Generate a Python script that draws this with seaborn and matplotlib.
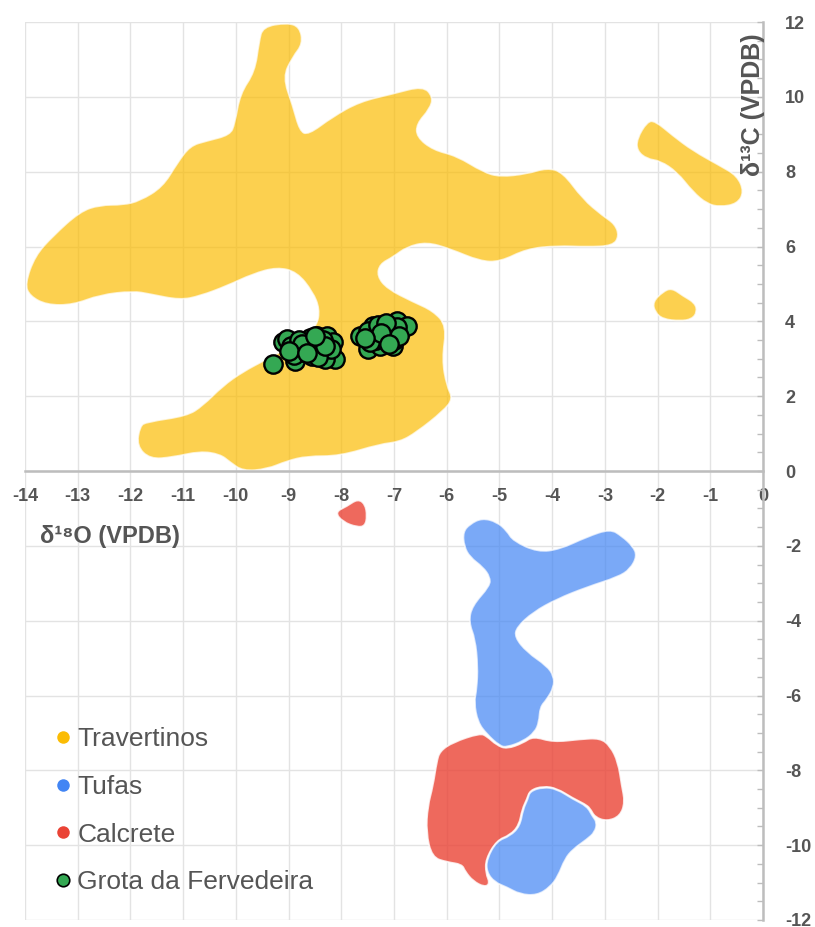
import numpy as np
import matplotlib
matplotlib.use("Agg")
import matplotlib.pyplot as plt
from matplotlib.path import Path
from matplotlib.patches import PathPatch
from matplotlib.lines import Line2D
from matplotlib.ticker import MultipleLocator
import seaborn as sns

# ---- outlines of the isotope fields (x = d18O, y = d13C, VPDB) ----
trav_main_x = [-14.0, -13.81, -13.47, -12.96, -12.58, -12.14, -11.82, -11.39, -11.12, -10.87,
               -10.55, -10.11, -10.02, -9.92, -9.64, -9.56, -9.49, -9.03, -8.79, -8.73,
               -8.92, -9.11, -8.92, -8.79, -8.63, -8.16, -7.65, -7.02, -6.45, -6.26,
               -6.32, -6.57, -6.57, -6.26, -5.81, -5.31, -4.99, -4.48, -4.10, -3.80,
               -3.42, -3.04, -2.81, -2.73, -2.85, -3.34, -3.91, -4.48, -4.99, -5.37,
               -5.94, -6.38, -6.76, -7.02, -7.27, -7.32, -7.13, -6.64, -6.26, -6.00,
               -6.09, -6.00, -5.88, -6.07, -6.57, -6.89, -7.27, -8.03, -8.65, -9.03,
               -9.41, -9.87, -10.11, -10.30, -10.68, -11.20, -11.63, -11.88, -11.82, -11.69,
               -10.93, -10.63, -10.25, -9.87, -9.41, -8.79, -8.46, -8.41, -8.54, -8.84,
               -9.22, -9.68, -10.17, -10.68, -11.06, -11.63, -11.95, -12.58, -13.09, -13.59,
               -13.91]
trav_main_y = [5.00, 5.75, 6.28, 6.93, 7.11, 7.11, 7.22, 7.59, 8.21, 8.69,
               8.82, 8.98, 9.28, 10.08, 10.67, 11.47, 11.87, 11.98, 11.87, 11.42,
               11.07, 10.53, 9.76, 9.09, 8.98, 9.47, 9.87, 10.08, 10.29, 10.00,
               9.68, 9.28, 8.93, 8.58, 8.42, 7.99, 7.86, 7.94, 8.10, 7.99,
               7.27, 6.82, 6.60, 6.28, 6.02, 5.99, 6.02, 5.94, 5.59, 5.61,
               5.94, 6.12, 5.99, 5.72, 5.53, 5.21, 4.87, 4.52, 4.28, 3.88,
               2.99, 2.27, 1.93, 1.60, 1.04, 0.78, 0.72, 0.40, 0.40, 0.27,
               0.05, 0.00, 0.24, 0.45, 0.53, 0.37, 0.32, 0.67, 1.20, 1.31,
               1.47, 1.74, 2.27, 2.65, 2.99, 3.45, 3.88, 4.33, 4.79, 5.32,
               5.45, 5.27, 4.95, 4.68, 4.57, 4.73, 4.81, 4.71, 4.44, 4.44,
               4.68]

trav_ne_x = [-2.39, -2.20, -2.05, -1.71, -1.33, -0.82, -0.49, -0.36, -0.49, -0.82,
             -1.06, -1.33, -1.63, -1.95, -2.20, -2.39]
trav_ne_y = [8.88, 9.33, 9.36, 8.96, 8.56, 8.16, 7.89, 7.46, 7.14, 7.06,
             7.14, 7.46, 7.99, 8.29, 8.34, 8.56]

trav_e_x = [-2.09, -1.90, -1.73, -1.52, -1.29, -1.25, -1.35, -1.57, -1.90, -2.05]
trav_e_y = [4.52, 4.79, 4.89, 4.68, 4.49, 4.25, 4.06, 4.01, 4.06, 4.25]

tufa_n_x = [-5.69, -5.56, -5.33, -5.05, -4.86, -4.74, -4.27, -3.85, -3.34, -2.90,
            -2.68, -2.47, -2.39, -2.52, -2.75, -3.34, -3.91, -4.36, -4.67, -4.71,
            -4.48, -4.10, -3.97, -3.97, -4.10, -4.23, -4.25, -4.33, -4.55, -4.86,
            -4.99, -5.24, -5.41, -5.48, -5.43, -5.41, -5.46, -5.58, -5.52, -5.18,
            -5.18, -5.31, -5.56, -5.67]
tufa_n_y = [-1.63, -1.42, -1.26, -1.36, -1.60, -1.87, -2.17, -2.09, -1.76, -1.55,
            -1.74, -2.01, -2.27, -2.62, -2.83, -3.10, -3.42, -3.77, -4.17, -4.44,
            -4.84, -5.21, -5.48, -5.78, -6.10, -6.31, -6.71, -6.98, -7.22, -7.38,
            -7.35, -7.03, -6.71, -6.18, -5.83, -5.21, -4.49, -4.04, -3.61, -3.07,
            -2.83, -2.57, -2.30, -2.01]

tufa_s_x = [-4.42, -4.17, -3.91, -3.61, -3.34, -3.24, -3.15, -3.19, -3.34, -3.61,
            -3.76, -3.89, -4.04, -4.29, -4.61, -4.86, -5.09, -5.24, -5.24, -5.05,
            -4.80, -4.61, -4.55, -4.46]
tufa_s_y = [-8.56, -8.45, -8.50, -8.77, -8.96, -9.22, -9.39, -9.65, -9.84, -10.11,
            -10.37, -10.83, -11.12, -11.34, -11.31, -11.12, -10.99, -10.72, -10.37, -9.89,
            -9.76, -9.49, -9.04, -8.77]

calc_x = [-6.13, -5.88, -5.37, -5.24, -5.05, -4.86, -4.55, -4.36, -3.98, -3.47,
          -3.09, -2.90, -2.75, -2.68, -2.62, -2.71, -2.96, -3.19, -3.28, -3.38,
          -3.61, -3.91, -4.17, -4.42, -4.48, -4.57, -4.63, -4.80, -5.05, -5.26,
          -5.26, -5.18, -5.28, -5.50, -5.65, -5.71, -6.00, -6.28, -6.39, -6.36,
          -6.26, -6.19]
calc_y = [-7.49, -7.25, -7.01, -7.09, -7.33, -7.43, -7.27, -7.09, -7.25, -7.17,
          -7.14, -7.35, -7.78, -8.42, -8.85, -9.22, -9.36, -9.25, -9.01, -8.90,
          -8.74, -8.48, -8.42, -8.53, -8.77, -9.04, -9.47, -9.73, -9.87, -10.37,
          -10.75, -11.02, -11.12, -10.96, -10.70, -10.51, -10.45, -10.32, -9.65, -8.96,
          -8.42, -7.78]

calc_small_x = [-8.12, -7.89, -7.69, -7.55, -7.51, -7.55, -7.70, -7.97]
calc_small_y = [-1.10, -0.94, -0.75, -0.88, -1.20, -1.47, -1.50, -1.36]

# ---- Grota da Fervedeira samples ----
gf_d18o = [-9.30, -9.11, -8.92, -8.88, -8.65, -8.46, -8.27, -8.16, -8.12, -8.31,
           -8.56, -8.73, -9.03, -8.95, -8.70, -8.50, -8.40, -8.60, -8.80, -8.35,
           -8.55, -8.90, -8.20, -8.45, -8.75, -9.00, -8.30, -8.65, -8.50,
           -7.65, -7.50, -7.40, -7.27, -7.21, -7.02, -6.94, -6.89, -7.12, -6.76,
           -7.40, -7.50, -7.35, -7.20, -7.05, -6.95, -7.30, -7.15, -7.45, -7.00,
           -6.90, -7.25, -7.55, -7.10]
gf_d13c = [2.86, 3.45, 3.26, 2.94, 3.45, 3.61, 3.61, 3.45, 2.99, 2.99,
           3.07, 3.18, 3.53, 3.35, 3.30, 3.40, 3.20, 3.55, 3.50, 3.50,
           3.25, 3.10, 3.25, 3.05, 3.40, 3.20, 3.35, 3.15, 3.60,
           3.61, 3.26, 3.88, 3.34, 3.72, 3.34, 4.01, 3.72, 3.80, 3.88,
           3.61, 3.75, 3.50, 3.55, 3.65, 3.85, 3.90, 3.95, 3.45, 3.50,
           3.60, 3.70, 3.55, 3.40]

series_names = ["Travertinos", "Tufas", "Calcrete", "Grota da Fervedeira"]
series_colors = ["#FBBC04", "#4285F4", "#EA4335", "#34A853"]

x_ticks = list(range(-14, 1))
y_ticks = list(range(-12, 13, 2))

TEXT = "#555555"
AXIS = "#BDBDBD"
FONTS = ["Liberation Sans", "DejaVu Sans"]

sns.set_theme(style="white")
plt.rcParams["font.family"] = FONTS


def blob(ax, xs, ys, color, alpha):
    """Closed smooth outline: quadratic Bezier segments through edge midpoints."""
    pts = np.column_stack([xs, ys])
    mids = (pts + np.roll(pts, -1, axis=0)) / 2.0
    verts = [mids[-1]]
    codes = [Path.MOVETO]
    for p, m in zip(pts, mids):
        verts += [p, m]
        codes += [Path.CURVE3, Path.CURVE3]
    verts.append(mids[-1])
    codes.append(Path.CLOSEPOLY)
    patch = PathPatch(Path(verts, codes), facecolor=color, alpha=alpha,
                      edgecolor="white", linewidth=1.2, zorder=2)
    ax.add_patch(patch)


fig = plt.figure(figsize=(8.15, 9.27), dpi=100)
ax = fig.add_axes([25 / 815, 7 / 927, 738 / 815, 898 / 927])

for xs, ys in [(trav_main_x, trav_main_y), (trav_ne_x, trav_ne_y), (trav_e_x, trav_e_y)]:
    blob(ax, xs, ys, series_colors[0], 0.7)
for xs, ys in [(calc_x, calc_y), (calc_small_x, calc_small_y)]:
    blob(ax, xs, ys, series_colors[2], 0.8)
for xs, ys in [(tufa_n_x, tufa_n_y), (tufa_s_x, tufa_s_y)]:
    blob(ax, xs, ys, series_colors[1], 0.7)

sns.scatterplot(x=gf_d18o, y=gf_d13c, color=series_colors[3], edgecolor="black",
                linewidth=1.7, s=175, zorder=5, ax=ax, legend=False)

ax.set_xlim(-14, 0)
ax.set_ylim(-12, 12)
ax.set_axisbelow(True)

# axis lines through the origin (done before tick styling: moving a spine resets ticks)
for side in ["left", "top"]:
    ax.spines[side].set_visible(False)
ax.spines["bottom"].set_position(("data", 0))
for side in ["bottom", "right"]:
    ax.spines[side].set_color(AXIS)
    ax.spines[side].set_linewidth(1.8)

ax.yaxis.tick_right()
ax.set_xticks(x_ticks)
ax.set_yticks(y_ticks)
ax.yaxis.set_minor_locator(MultipleLocator(0.5))
ax.grid(True, which="major", color="#E3E3E3", linewidth=1)
ax.tick_params(axis="x", length=0, pad=12, labelcolor=TEXT)
ax.tick_params(axis="y", which="both", direction="in", length=4, width=1,
               color=AXIS, pad=16, labelcolor=TEXT)
ax.set_xticklabels([str(v) for v in x_ticks], fontsize=13, fontweight="bold")
ax.set_yticklabels([str(v) for v in y_ticks], fontsize=13, fontweight="bold")

ax.text(-13.72, -1.76, "δ¹⁸O (VPDB)", ha="left", va="center", fontsize=17,
        fontweight="bold", color=TEXT, family=FONTS)
ax.text(-0.19, 9.79, "δ¹³C (VPDB)", ha="center", va="center", rotation=90,
        fontsize=18, fontweight="bold", color=TEXT, family=FONTS)

handles = [
    Line2D([], [], ls="", marker="o", markersize=9, markerfacecolor=c,
           markeredgecolor=("black" if name == "Grota da Fervedeira" else c),
           markeredgewidth=(1.2 if name == "Grota da Fervedeira" else 0))
    for name, c in zip(series_names, series_colors)
]
ax.legend(handles, series_names, loc="upper left",
          bbox_to_anchor=(55 / 815, 1 - 727 / 927), bbox_transform=fig.transFigure,
          frameon=False, fontsize=19, labelcolor=TEXT, handlelength=0.6,
          handletextpad=0.25, labelspacing=0.9, borderpad=0, borderaxespad=0)

fig.savefig("out.png", dpi=100)
